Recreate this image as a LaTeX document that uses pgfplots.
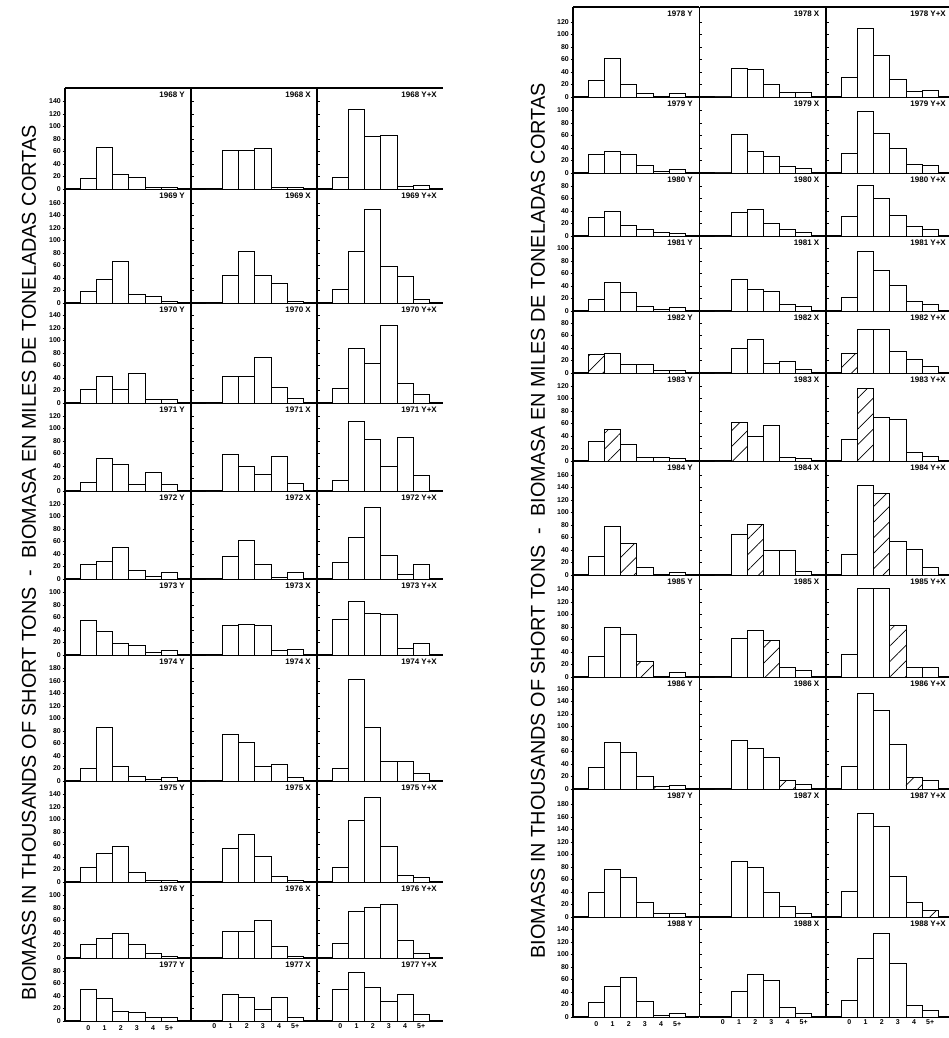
\documentclass[border=0pt]{standalone}
\usepackage{fontspec}
\setmainfont{Liberation Sans}
\usepackage{graphicx}
\usepackage{pgfplots}
\pgfplotsset{compat=1.18}
\usetikzlibrary{patterns.meta}

\tikzset{
  panellbl/.style={anchor=north east, inner sep=0pt, xshift=-6pt, yshift=-4pt, font=\fontsize{8}{9}\selectfont\bfseries},
}
\pgfplotsset{
  panel/.style={
    scale only axis, width=126pt, y=0.625pt,
    xmin=-1.45, xmax=6.35, ymin=0,
    anchor=south west,
    axis x line*=bottom, axis y line*=left,
    axis line style={-, line width=1.1pt},
    xtick=\empty,
    ybar, bar width=1,
    clip=false,
    /pgf/number format/assume math mode=true,
    major tick length=2.5pt,
    tick style={line width=0.8pt, black},
  },
  colA/.style={yticklabel style={font=\fontsize{7}{8}\selectfont\bfseries, inner sep=1.5pt}, tick align=outside},
  colB/.style={yticklabels={}, tick align=inside},
  botrow/.style={xtick={0,1,2,3,4,5}, xticklabels={0,1,2,3,4,5+}, xtick style={draw=none},
    xticklabel style={font=\fontsize{7}{8}\selectfont\bfseries, inner sep=2pt}},
  toprow/.style={extra description/.code={\draw[line width=1.1pt] (0,1)--(1,1);}},
  plainbars/.style={draw=black, fill=white, line width=0.9pt, bar shift=0pt},
  hatchbars/.style={draw=black, line width=0.9pt, bar shift=0pt, pattern={Lines[angle=45,distance=11pt,line width=0.7pt]}},
}

% #1 x, #2 baseline y, #3 ymax, #4 top tick, #5 style, #6 label, #7 bars, #8 hatched bars
\newcommand\pnl[8]{%
\begin{axis}[panel,#5,at={(#1pt,-#2pt)},ymax=#3,ytick={0,20,...,#4}]
\addplot[plainbars] coordinates {#7};
\def\hatchlist{#8}\ifx\hatchlist\empty\else\addplot[hatchbars] coordinates {#8};\fi
\node[panellbl] at (rel axis cs:1,1) {#6};
\end{axis}}

\begin{document}
\begin{tikzpicture}
\path[use as bounding box] (0pt,0pt) rectangle (948pt,-1038pt);

% ---------------- left grid 1968-1977 ----------------
\pnl{65}{189}{161.6}{140}{colA,toprow}{1968 Y}{(0,17)(1,66)(2,23)(3,19)(4,2)(5,3)}{}
\pnl{191}{189}{161.6}{140}{colB,toprow}{1968 X}{(0,0)(1,61)(2,61)(3,65)(4,3)(5,3)}{}
\pnl{317}{189}{161.6}{140}{colB,toprow}{1968 Y+X}{(0,19)(1,128)(2,84)(3,86)(4,4)(5,5)}{}

\pnl{65}{303}{182.4}{160}{colA}{1969 Y}{(0,19)(1,37)(2,67)(3,14)(4,10)(5,2)}{}
\pnl{191}{303}{182.4}{160}{colB}{1969 X}{(0,0)(1,44)(2,82)(3,44)(4,32)(5,3)}{}
\pnl{317}{303}{182.4}{160}{colB}{1969 Y+X}{(0,21)(1,83)(2,150)(3,58)(4,43)(5,5)}{}

\pnl{65}{403}{160}{140}{colA}{1970 Y}{(0,22)(1,43)(2,21)(3,48)(4,6)(5,6)}{}
\pnl{191}{403}{160}{140}{colB}{1970 X}{(0,0)(1,42)(2,42)(3,73)(4,25)(5,7)}{}
\pnl{317}{403}{160}{140}{colB}{1970 Y+X}{(0,23)(1,88)(2,64)(3,124)(4,31)(5,13)}{}

\pnl{65}{491}{140.8}{120}{colA}{1971 Y}{(0,14)(1,52)(2,43)(3,11)(4,30)(5,11)}{}
\pnl{191}{491}{140.8}{120}{colB}{1971 X}{(0,0)(1,59)(2,40)(3,27)(4,55)(5,12)}{}
\pnl{317}{491}{140.8}{120}{colB}{1971 Y+X}{(0,17)(1,111)(2,83)(3,40)(4,86)(5,25)}{}

\pnl{65}{579}{140.8}{120}{colA}{1972 Y}{(0,24)(1,28)(2,51)(3,13)(4,4)(5,11)}{}
\pnl{191}{579}{140.8}{120}{colB}{1972 X}{(0,0)(1,36)(2,62)(3,23)(4,3)(5,11)}{}
\pnl{317}{579}{140.8}{120}{colB}{1972 Y+X}{(0,26)(1,66)(2,115)(3,37)(4,7)(5,23)}{}

\pnl{65}{655}{121.6}{100}{colA}{1973 Y}{(0,55)(1,37)(2,18)(3,16)(4,4)(5,8)}{}
\pnl{191}{655}{121.6}{100}{colB}{1973 X}{(0,0)(1,47)(2,49)(3,47)(4,7)(5,9)}{}
\pnl{317}{655}{121.6}{100}{colB}{1973 Y+X}{(0,57)(1,85)(2,67)(3,65)(4,11)(5,18)}{}

\pnl{65}{781}{201.6}{180}{colA}{1974 Y}{(0,20)(1,85)(2,23)(3,7)(4,3)(5,5)}{}
\pnl{191}{781}{201.6}{180}{colB}{1974 X}{(0,0)(1,75)(2,61)(3,23)(4,27)(5,6)}{}
\pnl{317}{781}{201.6}{180}{colB}{1974 Y+X}{(0,20)(1,162)(2,86)(3,31)(4,31)(5,12)}{}

\pnl{65}{882}{161.6}{140}{colA}{1975 Y}{(0,23)(1,45)(2,57)(3,15)(4,3)(5,3)}{}
\pnl{191}{882}{161.6}{140}{colB}{1975 X}{(0,0)(1,53)(2,76)(3,41)(4,9)(5,3)}{}
\pnl{317}{882}{161.6}{140}{colB}{1975 Y+X}{(0,24)(1,98)(2,135)(3,57)(4,11)(5,8)}{}

\pnl{65}{958}{121.6}{100}{colA}{1976 Y}{(0,21)(1,31)(2,39)(3,22)(4,8)(5,3)}{}
\pnl{191}{958}{121.6}{100}{colB}{1976 X}{(0,0)(1,42)(2,42)(3,60)(4,19)(5,3)}{}
\pnl{317}{958}{121.6}{100}{colB}{1976 Y+X}{(0,23)(1,74)(2,81)(3,85)(4,28)(5,8)}{}

\pnl{65}{1021}{100.8}{80}{colA,botrow}{1977 Y}{(0,50)(1,36)(2,16)(3,13)(4,5)(5,6)}{}
\pnl{191}{1021}{100.8}{80}{colB,botrow}{1977 X}{(0,0)(1,42)(2,37)(3,19)(4,37)(5,6)}{}
\pnl{317}{1021}{100.8}{80}{colB,botrow}{1977 Y+X}{(0,51)(1,78)(2,53)(3,32)(4,42)(5,11)}{}

% ---------------- right grid 1978-1988 ----------------
\pnl{573}{97}{144}{120}{colA,toprow}{1978 Y}{(0,27)(1,62)(2,20)(3,6)(4,1)(5,5)}{}
\pnl{699.5}{97}{144}{120}{colB,toprow}{1978 X}{(0,0)(1,45)(2,44)(3,20)(4,7)(5,7)}{}
\pnl{826}{97}{144}{120}{colB,toprow}{1978 Y+X}{(0,31)(1,109)(2,66)(3,28)(4,9)(5,11)}{}

\pnl{573}{173}{121.6}{100}{colA}{1979 Y}{(0,30)(1,35)(2,29)(3,12)(4,3)(5,5)}{}
\pnl{699.5}{173}{121.6}{100}{colB}{1979 X}{(0,0)(1,62)(2,34)(3,27)(4,11)(5,7)}{}
\pnl{826}{173}{121.6}{100}{colB}{1979 Y+X}{(0,32)(1,99)(2,63)(3,39)(4,14)(5,12)}{}

\pnl{573}{236}{100.8}{80}{colA}{1980 Y}{(0,30)(1,39)(2,17)(3,10)(4,5)(5,4)}{}
\pnl{699.5}{236}{100.8}{80}{colB}{1980 X}{(0,0)(1,38)(2,42)(3,20)(4,10)(5,6)}{}
\pnl{826}{236}{100.8}{80}{colB}{1980 Y+X}{(0,32)(1,81)(2,60)(3,33)(4,16)(5,11)}{}

\pnl{573}{311}{120}{100}{colA}{1981 Y}{(0,19)(1,45)(2,30)(3,7)(4,3)(5,5)}{}
\pnl{699.5}{311}{120}{100}{colB}{1981 X}{(0,0)(1,50)(2,34)(3,31)(4,11)(5,7)}{}
\pnl{826}{311}{120}{100}{colB}{1981 Y+X}{(0,22)(1,96)(2,65)(3,41)(4,15)(5,11)}{}

\pnl{573}{373}{99.2}{80}{colA}{1982 Y}{(0,29)(1,31)(2,14)(3,14)(4,4)(5,4)}{(0,29)}
\pnl{699.5}{373}{99.2}{80}{colB}{1982 X}{(0,0)(1,39)(2,53)(3,16)(4,19)(5,6)}{}
\pnl{826}{373}{99.2}{80}{colB}{1982 Y+X}{(0,32)(1,70)(2,70)(3,34)(4,22)(5,10)}{(0,32)}

\pnl{573}{461}{140.8}{120}{colA}{1983 Y}{(0,32)(1,50)(2,27)(3,6)(4,5)(5,4)}{(1,50)}
\pnl{699.5}{461}{140.8}{120}{colB}{1983 X}{(0,0)(1,62)(2,40)(3,57)(4,6)(5,4)}{(1,62)}
\pnl{826}{461}{140.8}{120}{colB}{1983 Y+X}{(0,35)(1,116)(2,69)(3,66)(4,13)(5,8)}{(1,116)}

\pnl{573}{575}{182.4}{160}{colA}{1984 Y}{(0,30)(1,77)(2,50)(3,12)(4,1)(5,4)}{(2,50)}
\pnl{699.5}{575}{182.4}{160}{colB}{1984 X}{(0,0)(1,65)(2,81)(3,39)(4,39)(5,6)}{(2,81)}
\pnl{826}{575}{182.4}{160}{colB}{1984 Y+X}{(0,33)(1,144)(2,131)(3,53)(4,41)(5,12)}{(2,131)}

\pnl{573}{677}{163.2}{140}{colA}{1985 Y}{(0,33)(1,80)(2,68)(3,25)(4,1)(5,8)}{(3,25)}
\pnl{699.5}{677}{163.2}{140}{colB}{1985 X}{(0,0)(1,61)(2,74)(3,58)(4,15)(5,10)}{(3,58)}
\pnl{826}{677}{163.2}{140}{colB}{1985 Y+X}{(0,36)(1,141)(2,141)(3,83)(4,16)(5,16)}{(3,83)}

\pnl{573}{789}{179.2}{160}{colA}{1986 Y}{(0,34)(1,74)(2,58)(3,20)(4,4)(5,6)}{(4,4)}
\pnl{699.5}{789}{179.2}{160}{colB}{1986 X}{(0,0)(1,77)(2,65)(3,50)(4,13)(5,7)}{(4,13)}
\pnl{826}{789}{179.2}{160}{colB}{1986 Y+X}{(0,36)(1,153)(2,126)(3,72)(4,19)(5,14)}{(4,19)}

\pnl{573}{917}{204.8}{180}{colA}{1987 Y}{(0,39)(1,76)(2,63)(3,24)(4,5)(5,5)}{}
\pnl{699.5}{917}{204.8}{180}{colB}{1987 X}{(0,0)(1,89)(2,80)(3,40)(4,17)(5,6)}{}
\pnl{826}{917}{204.8}{180}{colB}{1987 Y+X}{(0,41)(1,166)(2,145)(3,65)(4,24)(5,11)}{(5,11)}

\pnl{573}{1017}{160}{140}{colA,botrow}{1988 Y}{(0,23)(1,49)(2,63)(3,25)(4,3)(5,5)}{}
\pnl{699.5}{1017}{160}{140}{colB,botrow}{1988 X}{(0,0)(1,41)(2,68)(3,58)(4,16)(5,5)}{}
\pnl{826}{1017}{160}{140}{colB,botrow}{1988 Y+X}{(0,26)(1,94)(2,134)(3,86)(4,19)(5,11)}{}

% ---------------- axis titles ----------------
\node[rotate=90, inner sep=0pt] at (29pt,-563pt) {\resizebox{875pt}{14pt}{BIOMASS IN THOUSANDS OF SHORT TONS\ \ -\ \ BIOMASA EN MILES DE TONELADAS CORTAS}};
\node[rotate=90, inner sep=0pt] at (538pt,-521pt) {\resizebox{875pt}{14pt}{BIOMASS IN THOUSANDS OF SHORT TONS\ \ -\ \ BIOMASA EN MILES DE TONELADAS CORTAS}};
\end{tikzpicture}
\end{document}
